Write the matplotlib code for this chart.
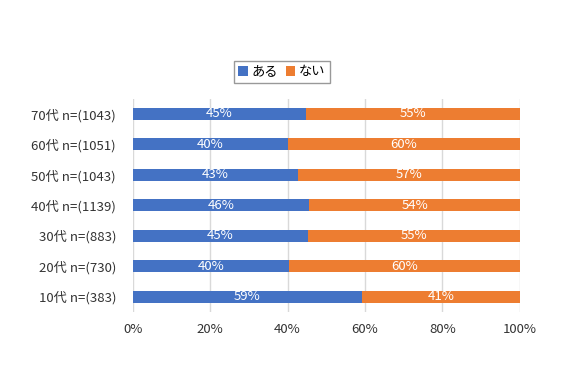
import matplotlib
matplotlib.use("Agg")
import matplotlib.pyplot as plt
import numpy as np

plt.rcParams['font.family'] = ['Noto Sans CJK JP', 'DejaVu Sans']

# data (bottom to top)
categories = ['10代 n=(383)', '20代 n=(730)', '30代 n=(883)', '40代 n=(1139)',
              '50代 n=(1043)', '60代 n=(1051)', '70代 n=(1043)']
aru = [59.1, 40.4, 45.4, 45.6, 42.6, 40.0, 44.7]
nai = [100 - v for v in aru]
series_names = ['ある', 'ない']
colors = ['#4472C4', '#ED7D31']

fig = plt.figure(figsize=(5.67, 3.78), dpi=100)
ax = fig.add_axes([0.234, 0.175, 0.683, 0.564])

y = np.arange(len(categories))
h = 0.39
ax.barh(y, aru, height=h, color=colors[0], label=series_names[0], zorder=3)
ax.barh(y, nai, left=aru, height=h, color=colors[1], label=series_names[1], zorder=3)

for i in range(len(categories)):
    ax.text(aru[i] / 2, y[i], f'{round(aru[i])}%', color='white', ha='center',
            va='center', fontsize=9.5, zorder=4)
    ax.text(aru[i] + nai[i] / 2, y[i], f'{round(nai[i])}%', color='white',
            ha='center', va='center', fontsize=9.5, zorder=4)

ax.set_xlim(0, 100)
ax.set_ylim(-0.5, len(categories) - 0.5)
ax.set_xticks(np.arange(0, 101, 20))
ax.set_xticklabels([f'{v}%' for v in range(0, 101, 20)])
ax.set_yticks(y)
ax.set_yticklabels(categories)
ax.tick_params(axis='both', length=0, labelsize=9.5, colors='#333333')
ax.tick_params(axis='x', pad=8)
ax.tick_params(axis='y', pad=12)
ax.grid(axis='x', color='#d9d9d9', linewidth=1, zorder=0)
for s in ax.spines.values():
    s.set_visible(False)

leg = fig.legend(loc='center', bbox_to_anchor=(282 / 567, 1 - 72 / 378), ncol=2,
                 fontsize=9.5, frameon=True, fancybox=False, handlelength=0.7,
                 handleheight=0.7, handletextpad=0.3, columnspacing=0.6,
                 borderpad=0.35)
leg.get_frame().set_edgecolor('#808080')
leg.get_frame().set_linewidth(1)

fig.savefig('out.png', dpi=100)
